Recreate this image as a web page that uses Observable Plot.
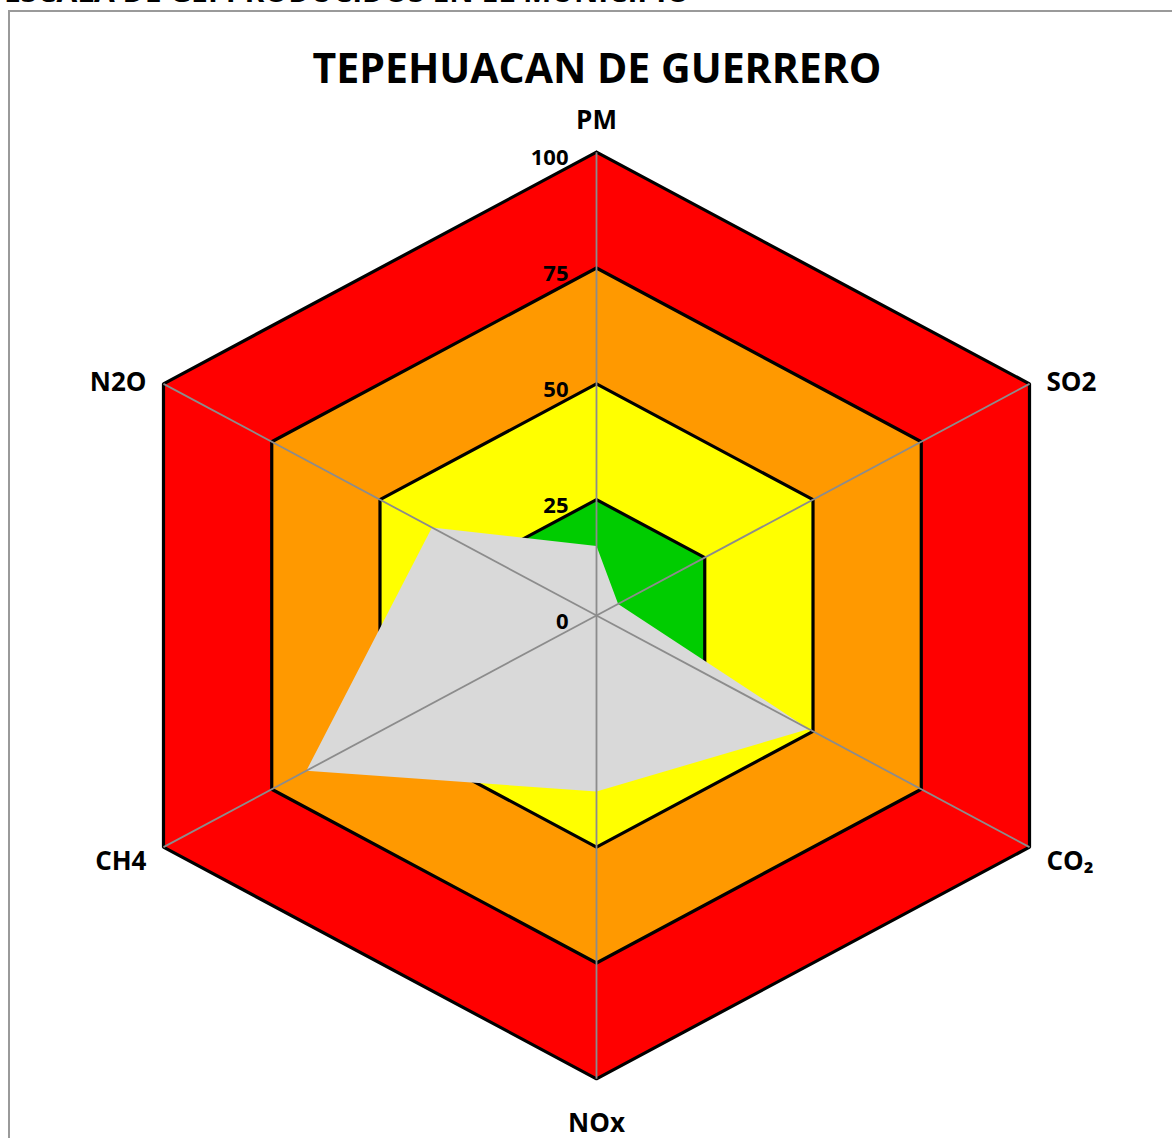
<!DOCTYPE html>
<html><head><meta charset="utf-8">
<script src="https://cdn.jsdelivr.net/npm/d3@7"></script>
<script src="https://cdn.jsdelivr.net/npm/@observablehq/plot@0.6"></script>
<style>
body{margin:0;background:#fff;overflow:hidden;width:1172px;height:1138px;position:relative;font-family:"Open Sans",sans-serif;}
#frame{position:absolute;left:8px;top:10px;width:1200px;height:1200px;border-left:2px solid #9a9a9a;border-top:2px solid #9a9a9a;}
#cut{position:absolute;left:4px;top:-24px;font-size:30px;line-height:30px;font-weight:700;color:#000;white-space:nowrap;}
#title{position:absolute;left:0;width:1194px;text-align:center;top:47px;font-size:41px;line-height:40px;font-weight:700;color:#000;white-space:nowrap;}
#chart{position:absolute;left:0;top:100px;}
</style></head>
<body>
<div id="frame"></div>
<div id="cut">ESCALA DE GEI PRODUCIDOS EN EL MUNICIPIO</div>
<div id="title">TEPEHUACAN DE GUERRERO</div>
<div id="chart"></div>
<script>
const categories = ["PM", "SO2", "CO₂", "NOx", "CH4", "N2O"];
const values = [15, 5, 49, 38, 67, 38];
const levels = [100, 75, 50, 25];
const bandColors = ["#ff0000", "#ff9900", "#ffff00", "#00cc00"];
const ticks = [0, 25, 50, 75, 100];

const ang = i => i * Math.PI / 3;
const px = (v, i) => v * Math.sin(ang(i));
const py = (v, i) => v * Math.cos(ang(i));

const bandRows = [];
levels.forEach((lv, k) => {
  for (let i = 0; i <= categories.length; i++) {
    const j = i % categories.length;
    bandRows.push({level: lv, color: bandColors[k], x: px(lv, j), y: py(lv, j)});
  }
});
const dataRows = [];
for (let i = 0; i <= categories.length; i++) {
  const j = i % categories.length;
  dataRows.push({x: px(values[j], j), y: py(values[j], j)});
}
const spokes = categories.map((c, i) => ({x1: 0, y1: 0, x2: px(100, i), y2: py(100, i)}));
const catRows = categories.map((c, i) => ({label: c, i, x: px(100, i), y: py(100, i)}));
const tickRows = ticks.map(t => ({label: String(t), x: 0, y: t}));

const labelOpts = [
  {textAnchor: "middle", dx: 0, dy: -32},
  {textAnchor: "start", dx: 17, dy: -1},
  {textAnchor: "start", dx: 17, dy: 15},
  {textAnchor: "middle", dx: 0, dy: 45},
  {textAnchor: "end", dx: -17, dy: 15},
  {textAnchor: "end", dx: -17, dy: -1}
];

const cx = 596, cy = 515, rx = 500, ry = 463.3;
const chart = Plot.plot({
  width: 1172, height: 1038,
  margin: 0,
  x: {domain: [-100, 100], range: [cx - rx, cx + rx], axis: null},
  y: {domain: [-100, 100], range: [cy + ry, cy - ry], axis: null},
  color: {type: "identity"},
  style: {fontFamily: "'Open Sans', sans-serif", background: "transparent"},
  marks: [
    Plot.line(bandRows, {x: "x", y: "y", z: "level", fill: "color", stroke: "#000", strokeWidth: 3.2, strokeLinejoin: "miter", curve: "linear"}),
    Plot.line(dataRows, {x: "x", y: "y", fill: "#d9d9d9", stroke: "none"}),
    Plot.link(spokes, {x1: "x1", y1: "y1", x2: "x2", y2: "y2", stroke: "#8c8c8c", strokeWidth: 1.8}),
    Plot.text(tickRows, {x: "x", y: "y", text: "label", textAnchor: "end", dx: -28, dy: 6, fontSize: 22, fontWeight: 700, fill: "#000"}),
    ...catRows.map((r, i) => Plot.text([r], {x: "x", y: "y", text: "label", fontSize: 26, fontWeight: 700, fill: "#000", ...labelOpts[i]}))
  ]
});
document.getElementById("chart").appendChild(chart);
</script>
</body></html>
